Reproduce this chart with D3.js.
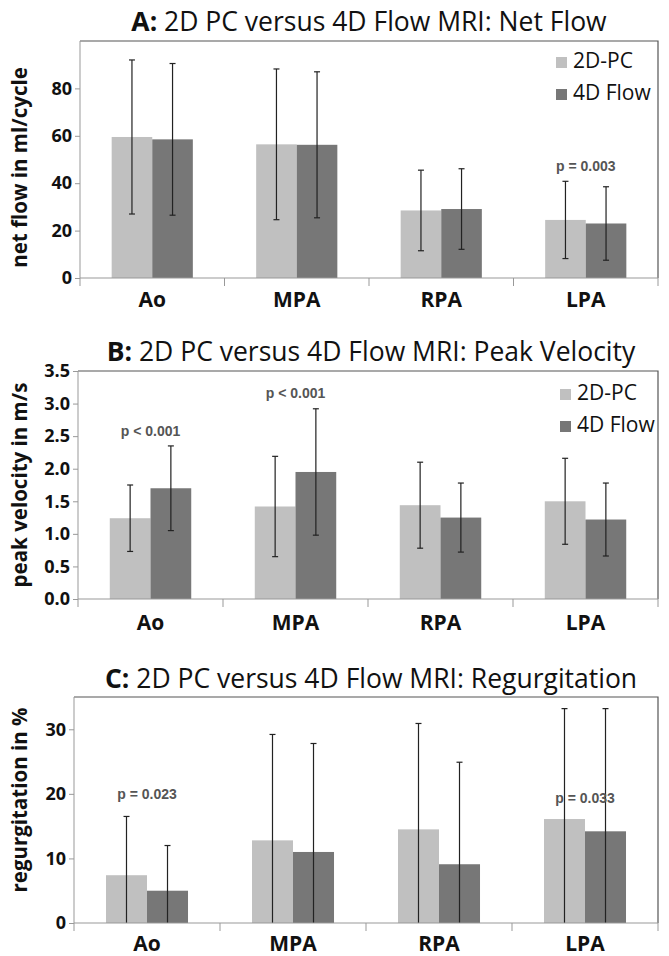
<!DOCTYPE html>
<html>
<head>
<meta charset="utf-8">
<script src="https://cdn.jsdelivr.net/npm/d3@7"></script>
<style>
  body { margin: 0; background: #fff; }
  svg { display: block; }
</style>
</head>
<body>
<div id="container"></div>
<script>
const width = 669;
const height = 956;

// shared categories and series
const vessels = ["Ao", "MPA", "RPA", "LPA"];
const methods = ["2D-PC", "4D Flow"];

// A: net flow (ml/cycle), mean and SD per vessel
const netFlow2D = [59.5, 56.4, 28.5, 24.5];
const netFlow4D = [58.5, 56.2, 29.1, 23.0];
const netFlowSd2D = [32.5, 31.8, 17.0, 16.3];
const netFlowSd4D = [32.0, 30.8, 17.0, 15.5];
const netFlowTicks = [0, 20, 40, 60, 80];
const netFlowP = [{vessel: "LPA", label: "p = 0.003", at: 45}];

// B: peak velocity (m/s)
const velocity2D = [1.24, 1.42, 1.44, 1.50];
const velocity4D = [1.70, 1.95, 1.25, 1.22];
const velocitySd2D = [0.51, 0.77, 0.66, 0.66];
const velocitySd4D = [0.65, 0.97, 0.53, 0.56];
const velocityTicks = [0, 0.5, 1.0, 1.5, 2.0, 2.5, 3.0, 3.5];
const velocityP = [
  {vessel: "Ao", label: "p < 0.001", at: 2.5},
  {vessel: "MPA", label: "p < 0.001", at: 3.08}
];

// C: regurgitation (%)
const regurg2D = [7.4, 12.8, 14.5, 16.1];
const regurg4D = [5.0, 11.0, 9.1, 14.2];
const regurgSd2D = [9.1, 16.4, 16.4, 17.1];
const regurgSd4D = [7.0, 16.8, 15.8, 19.0];
const regurgTicks = [0, 10, 20, 30];
const regurgP = [
  {vessel: "Ao", label: "p = 0.023", at: 19.2},
  {vessel: "LPA", label: "p = 0.033", at: 18.6}
];

const color = d3.scaleOrdinal().domain(methods).range(["#c0c0c0", "#777777"]);

const svg = d3.select("#container").append("svg")
  .attr("width", width)
  .attr("height", height)
  .attr("viewBox", [0, 0, width, height]);

function rows(means2D, means4D, sd2D, sd4D) {
  return vessels.map((v, i) => ({
    vessel: v,
    values: [
      {method: methods[0], mean: means2D[i], sd: sd2D[i]},
      {method: methods[1], mean: means4D[i], sd: sd4D[i]}
    ]
  }));
}

function drawPanel(p) {
  const x0 = d3.scaleBand().domain(vessels).range([p.left, p.right]).padding(0);
  const x1 = d3.scaleBand().domain(methods).range([0, x0.bandwidth()])
    .paddingInner(0).paddingOuter(0.78);
  const y = d3.scaleLinear().domain(p.domain).range([p.bottom, p.top]);

  const g = svg.append("g");

  // title with bold letter prefix
  const title = g.append("text")
    .attr("x", (p.left + p.right) / 2 + p.titleShift)
    .attr("y", p.titleY)
    .attr("text-anchor", "middle")
    .style("font-family", "'Open Sans', sans-serif")
    .style("font-size", "26.5px")
    .attr("fill", "#111");
  title.append("tspan").attr("font-weight", "bold").text(p.letter + ":");
  title.append("tspan").text(" " + p.title);

  // frame top and right
  g.append("path")
    .attr("d", `M${p.left},${p.top}H${p.right}V${p.bottom}`)
    .attr("fill", "none")
    .attr("stroke", "#555")
    .attr("stroke-width", 1.2);

  // bars
  const groups = g.append("g").selectAll("g")
    .data(p.data)
    .join("g")
    .attr("transform", d => `translate(${x0(d.vessel)},0)`);

  groups.selectAll("rect")
    .data(d => d.values)
    .join("rect")
    .attr("x", d => x1(d.method))
    .attr("width", x1.bandwidth())
    .attr("y", d => y(d.mean))
    .attr("height", d => y(0) - y(d.mean))
    .attr("fill", d => color(d.method));

  // error bars
  const err = groups.selectAll("g.err")
    .data(d => d.values)
    .join("g")
    .attr("class", "err")
    .attr("stroke", "#222")
    .attr("stroke-width", 1.2);
  const cx = d => x1(d.method) + x1.bandwidth() / 2;
  const hi = d => y(d.mean + d.sd);
  const lo = d => y(Math.max(0, d.mean - d.sd));
  err.append("line")
    .attr("x1", cx).attr("x2", cx)
    .attr("y1", hi).attr("y2", lo);
  err.append("line")
    .attr("x1", d => cx(d) - 3).attr("x2", d => cx(d) + 3)
    .attr("y1", hi).attr("y2", hi);
  err.filter(d => d.mean - d.sd > 0).append("line")
    .attr("x1", d => cx(d) - 3).attr("x2", d => cx(d) + 3)
    .attr("y1", lo).attr("y2", lo);

  // y axis
  g.append("g")
    .attr("transform", `translate(${p.left},0)`)
    .call(d3.axisLeft(y).tickValues(p.ticks).tickSize(5).tickPadding(3).tickFormat(p.format))
    .call(a => a.select(".domain").attr("stroke", "#999").attr("d", `M0,${p.top}V${p.bottom}`))
    .call(a => a.selectAll(".tick line").attr("stroke", "#999"))
    .call(a => a.selectAll(".tick text")
      .attr("fill", "#111")
      .style("font-family", "'Open Sans', sans-serif")
      .style("font-weight", "bold")
      .style("font-size", "18px"));

  // x axis with separators between categories
  const xAxis = g.append("g").attr("transform", `translate(0,${p.bottom})`);
  xAxis.append("line")
    .attr("x1", p.left).attr("x2", p.right)
    .attr("stroke", "#999");
  xAxis.selectAll("line.sep")
    .data(vessels.map(v => x0(v)).concat([p.right]))
    .join("line")
    .attr("class", "sep")
    .attr("x1", d => d).attr("x2", d => d)
    .attr("y1", 0).attr("y2", 8)
    .attr("stroke", "#999");
  xAxis.selectAll("text")
    .data(vessels)
    .join("text")
    .attr("x", d => x0(d) + x0.bandwidth() / 2)
    .attr("y", p.xLabelDy)
    .attr("text-anchor", "middle")
    .attr("fill", "#111")
    .style("font-family", "'Open Sans', sans-serif")
    .style("font-weight", "bold")
    .style("font-size", "21px")
    .text(d => d);

  // y axis title
  g.append("text")
    .attr("transform", `translate(${p.yTitleX},${(p.top + p.bottom) / 2 + p.yTitleShift}) rotate(-90)`)
    .attr("text-anchor", "middle")
    .attr("fill", "#111")
    .style("font-family", "'Open Sans', sans-serif")
    .style("font-weight", "bold")
    .style("font-size", "20.5px")
    .text(p.yTitle);

  // p-value labels
  g.selectAll("text.pval")
    .data(p.pvals)
    .join("text")
    .attr("class", "pval")
    .attr("x", d => x0(d.vessel) + x0.bandwidth() / 2)
    .attr("y", d => y(d.at))
    .attr("text-anchor", "middle")
    .attr("fill", "#555")
    .style("font-family", "'Liberation Sans Narrow', 'Arial Narrow', sans-serif")
    .style("font-weight", "bold")
    .style("font-size", "14px")
    .text(d => d.label);

  // legend
  if (p.legend) {
    const lg = g.append("g").selectAll("g")
      .data(methods)
      .join("g")
      .attr("transform", (d, i) => `translate(${p.legendX},${p.legendY + i * 32})`);
    lg.append("rect")
      .attr("y", -11).attr("width", 11).attr("height", 11)
      .attr("fill", d => color(d));
    lg.append("text")
      .attr("x", 17)
      .attr("fill", "#111")
      .style("font-family", "'Open Sans', sans-serif")
      .style("font-size", "21px")
      .text(d => d);
  }
}

drawPanel({
  letter: "A", title: "2D PC versus 4D Flow MRI: Net Flow", titleY: 31, titleShift: 0,
  left: 80, right: 658, top: 41, bottom: 278,
  domain: [0, 100], ticks: netFlowTicks, format: d3.format("d"),
  data: rows(netFlow2D, netFlow4D, netFlowSd2D, netFlowSd4D),
  pvals: netFlowP, xLabelDy: 29,
  yTitle: "net flow in ml/cycle", yTitleX: 27, yTitleShift: 8,
  legend: true, legendX: 556, legendY: 68
});

drawPanel({
  letter: "B", title: "2D PC versus 4D Flow MRI: Peak Velocity", titleY: 361, titleShift: 3,
  left: 78, right: 658, top: 371, bottom: 599,
  domain: [0, 3.5], ticks: velocityTicks, format: d3.format(".1f"),
  data: rows(velocity2D, velocity4D, velocitySd2D, velocitySd4D),
  pvals: velocityP, xLabelDy: 31,
  yTitle: "peak velocity in m/s", yTitleX: 27, yTitleShift: 0,
  legend: true, legendX: 560, legendY: 400
});

drawPanel({
  letter: "C", title: "2D PC versus 4D Flow MRI: Regurgitation", titleY: 688, titleShift: 5,
  left: 74, right: 658, top: 697, bottom: 923,
  domain: [0, 35], ticks: regurgTicks, format: d3.format("d"),
  data: rows(regurg2D, regurg4D, regurgSd2D, regurgSd4D),
  pvals: regurgP, xLabelDy: 28,
  yTitle: "regurgitation in %", yTitleX: 27, yTitleShift: -10,
  legend: false
});
</script>
</body>
</html>
